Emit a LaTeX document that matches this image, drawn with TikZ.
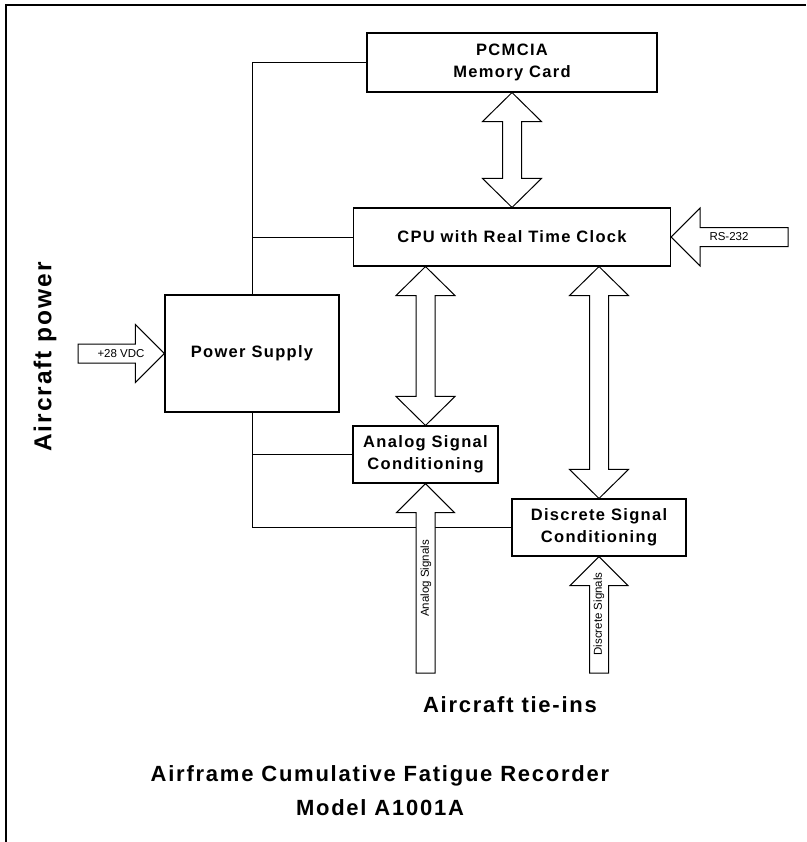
\documentclass[tikz,border=0pt]{standalone}
\usepackage{fontspec}
\setmainfont{Liberation Sans}
\newfontfamily\spaced[LetterSpace=8]{Liberation Sans}
\usetikzlibrary{calc}

\newcommand{\oneway}[2]{%
 \coordinate (hb) at ($(#2)!29pt!(#1)$);
 \draw[fatarrow] (#2) -- ($(hb)!29pt!90:(#2)$) -- ($(hb)!9.5pt!90:(#2)$) -- ($(#1)!9.5pt!90:(#2)$) -- ($(#1)!9.5pt!-90:(#2)$) -- ($(hb)!9.5pt!-90:(#2)$) -- ($(hb)!29pt!-90:(#2)$) -- cycle;}
\newcommand{\twoway}[2]{%
 \coordinate (ha) at ($(#1)!29pt!(#2)$);
 \coordinate (hz) at ($(#2)!29pt!(#1)$);
 \draw[fatarrow] (#1) -- ($(ha)!29.5pt!90:(#2)$) -- ($(ha)!9.5pt!90:(#2)$) -- ($(hz)!9.5pt!90:(#2)$) -- ($(hz)!29.5pt!90:(#2)$) -- (#2) -- ($(hz)!29.5pt!-90:(#2)$) -- ($(hz)!9.5pt!-90:(#2)$) -- ($(ha)!9.5pt!-90:(#2)$) -- ($(ha)!29.5pt!-90:(#2)$) -- cycle;}

\begin{document}
\begin{tikzpicture}[x=1pt,y=-1pt,
 blockbox/.style={draw,line width=1.1pt,inner sep=0pt,align=center,font=\spaced\bfseries\fontsize{16.5}{22}\selectfont},
 fatarrow/.style={draw,line width=1pt,fill=white,line join=miter},
 wire/.style={line width=1pt},
 smalltext/.style={inner sep=0pt,font=\fontsize{11.5}{13}\selectfont},
 bigtext/.style={inner sep=0pt,font=\spaced\bfseries\fontsize{22}{24}\selectfont}]
 \useasboundingbox (0,0) rectangle (806,842);
 \draw[line width=1.5pt] (6,842) -- (6,5) -- (806,5);
 \node[blockbox,minimum width=290pt,minimum height=59pt] (pcm) at (512,62.5) {PCMCIA\\Memory Card};
 \node[blockbox,minimum width=317pt,minimum height=58pt] (cpu) at (512,237) {CPU with Real Time Clock};
 \node[blockbox,minimum width=174pt,minimum height=117pt] (ps) at (252,353.5) {Power Supply};
 \node[blockbox,minimum width=145pt,minimum height=57pt] (asc) at (425.5,454.5) {Analog Signal\\Conditioning};
 \node[blockbox,minimum width=174pt,minimum height=57pt] (dsc) at (599,527.5) {Discrete Signal\\Conditioning};
 \draw[wire] (ps.north) |- (pcm.west);
 \draw[wire] (ps.north |- cpu.west) -- (cpu.west);
 \draw[wire] (ps.south) |- (dsc.west);
 \draw[wire] (ps.south |- asc.west) -- (asc.west);
 \coordinate (cpuA) at (cpu.south -| asc.north);
 \coordinate (cpuD) at (cpu.south -| dsc.north);
 \coordinate (rsin) at (788,237);
 \coordinate (vdcin) at (78,353.5);
 \coordinate (anin) at (425.5,673);
 \coordinate (dsin) at (599,673);
 \twoway{pcm.south}{cpu.north}
 \twoway{cpuA}{asc.north}
 \twoway{cpuD}{dsc.north}
 \oneway{rsin}{cpu.east}
 \oneway{vdcin}{ps.west}
 \oneway{anin}{asc.south}
 \oneway{dsin}{dsc.south}
 \node[smalltext] (rs) at (729,237) {RS-232};
 \node[smalltext] (vdc) at (121,353.5) {+28 VDC};
 \node[smalltext,rotate=90] (ansig) at (426,578.5) {Analog Signals};
 \node[smalltext,rotate=90] (dssig) at (599,614) {Discrete Signals};
 \node[bigtext,rotate=90,font=\spaced\bfseries\fontsize{24.5}{26}\selectfont] (power) at (45,357) {Aircraft power};
 \node[bigtext] (tieins) at (510,705) {Aircraft tie-ins};
 \node[bigtext] (title) at (380,776) {Airframe Cumulative Fatigue Recorder};
 \node[bigtext] (model) at (380,808) {Model A1001A};
\end{tikzpicture}
\end{document}
